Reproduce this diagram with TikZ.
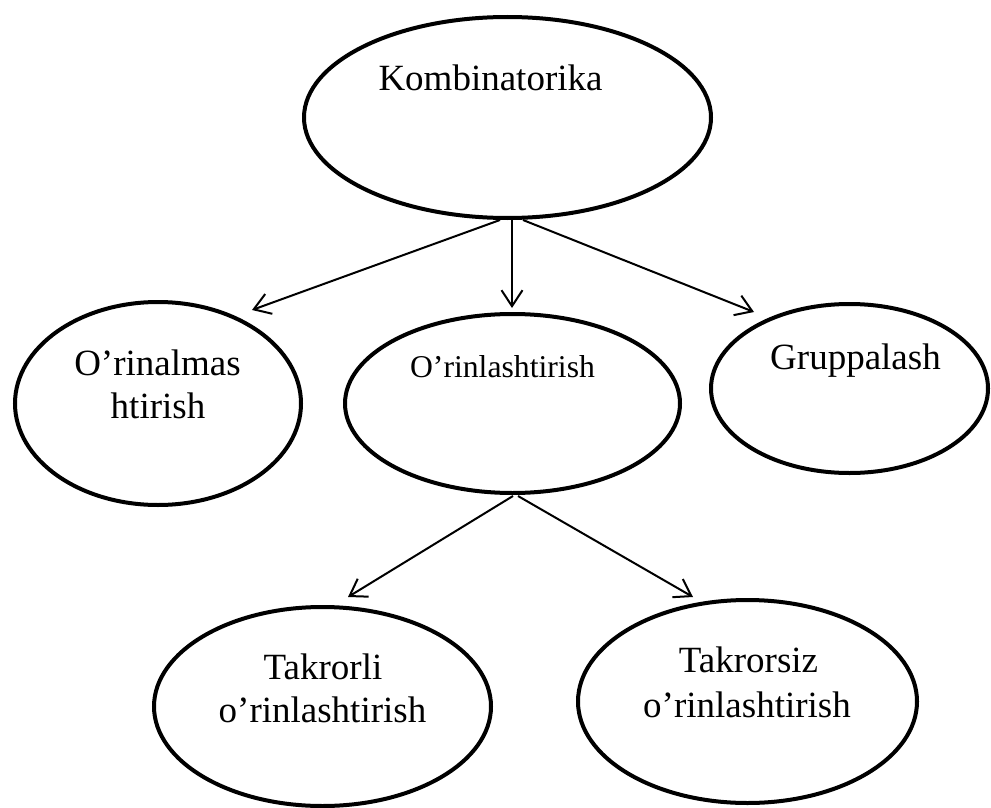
\documentclass[tikz,border=0pt]{standalone}
\usepackage{fontspec}
\setmainfont{Liberation Serif}
\usetikzlibrary{shapes.geometric,arrows.meta}
\tikzset{
  ell/.style={draw=black, line width=4pt, ellipse, inner sep=0pt, outer sep=0pt},
  lbl/.style={anchor=base, inner sep=0pt, font=\fontsize{37}{43}\selectfont},
  lblsmall/.style={anchor=base, inner sep=0pt, font=\fontsize{31.7}{38}\selectfont},
  conn/.style={draw=black, line width=2pt, -{Straight Barb[length=16pt,width=21pt,line width=2pt]}}
}
\begin{document}
\begin{tikzpicture}[x=1pt,y=-1pt]
\useasboundingbox[fill=white] (0,0) rectangle (991,808);
% ellipses
\node[ell, minimum width=407pt, minimum height=201pt] (komb) at (507.5,117.5) {};
\node[ell, minimum width=286pt, minimum height=203pt] (orin) at (158,403.5) {};
\node[ell, minimum width=335pt, minimum height=179pt] (orl) at (512.5,403.5) {};
\node[ell, minimum width=277pt, minimum height=169pt] (grup) at (849.5,388.5) {};
\node[ell, minimum width=337pt, minimum height=199pt] (takl) at (322.5,706.5) {};
\node[ell, minimum width=339pt, minimum height=203pt] (taks) at (747.5,701.5) {};
% texts
\node[lbl] (tkomb) at (490.5,90) {Kombinatorika};
\node[lbl] (torin1) at (157.5,375) {O’rinalmas};
\node[lbl] (torin2) at (158,418) {htirish};
\node[lblsmall] (torl) at (502.5,377) {O’rinlashtirish};
\node[lbl] (tgrup) at (855.5,369) {Gruppalash};
\node[lbl] (ttakl1) at (323,679) {Takrorli};
\node[lbl] (ttakl2) at (322.5,722) {o’rinlashtirish};
\node[lbl] (ttaks1) at (748.5,672) {Takrorsiz};
\node[lbl] (ttaks2) at (747,717) {o’rinlashtirish};
% connector end points
\coordinate (s1) at (500,220);
\coordinate (s2) at (512,220);
\coordinate (s3) at (523,220);
\coordinate (e1) at (252,310);
\coordinate (e2) at (512,308);
\coordinate (e3) at (754,312);
\coordinate (s4) at (513,496);
\coordinate (s5) at (518,496);
\coordinate (e4) at (348,597);
\coordinate (e5) at (693,597);
\draw[conn] (s1) -- (e1);
\draw[conn] (s2) -- (e2);
\draw[conn] (s3) -- (e3);
\draw[conn] (s4) -- (e4);
\draw[conn] (s5) -- (e5);
\end{tikzpicture}
\end{document}
